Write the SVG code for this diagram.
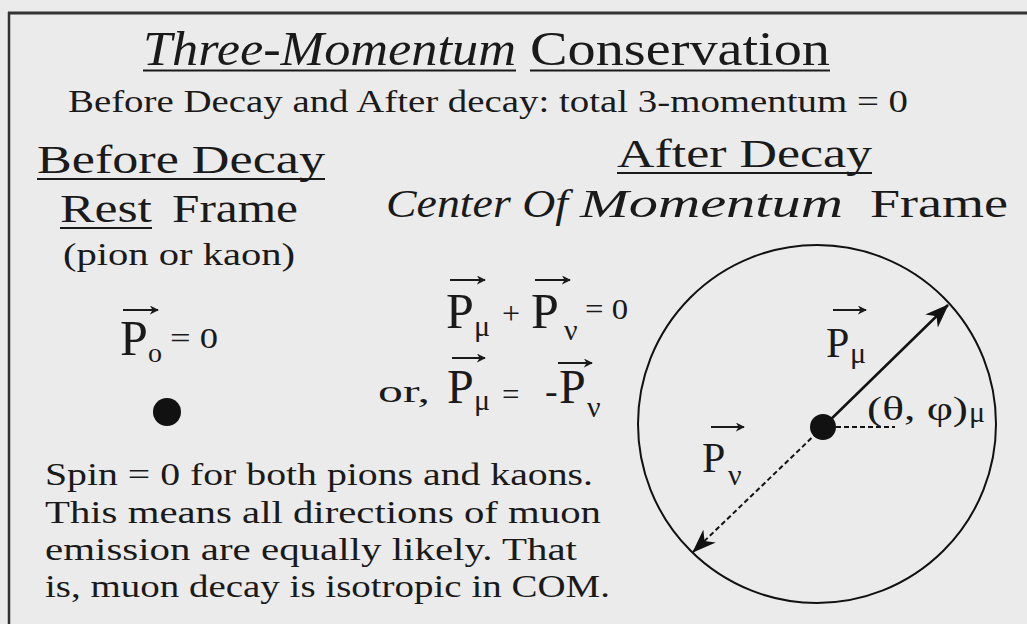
<svg xmlns="http://www.w3.org/2000/svg" width="1027" height="624" viewBox="0 0 1027 624">
<defs>
<style>
.t{font-family:"Liberation Serif","Times New Roman",serif;fill:#1a1a1a}
.i{font-style:italic}
.ul{stroke:#1a1a1a;stroke-width:2}
.va{stroke:#1a1a1a;stroke-width:1.8;fill:none}
</style>
<marker id="vh" viewBox="0 0 10 10" refX="9" refY="5" markerWidth="9" markerHeight="9" markerUnits="userSpaceOnUse" orient="auto">
<path d="M0,0 L10,5 L0,10 L3,5 Z" fill="#1a1a1a"/>
</marker>
<marker id="ah" viewBox="0 0 24 18" refX="23" refY="9" markerWidth="24" markerHeight="18" markerUnits="userSpaceOnUse" orient="auto">
<path d="M0,0 L24,9 L0,18 L7,9 Z" fill="#111"/>
</marker>
</defs>
<rect width="1027" height="624" fill="#ebebeb"/>
<g id="frame">
<line x1="8" y1="13" x2="1027" y2="13" stroke="#333" stroke-width="3"/>
<line x1="9" y1="12" x2="9" y2="624" stroke="#333" stroke-width="2.5"/>
</g>
<g id="title">
<text class="t i" x="143" y="65" font-size="48" textLength="373" lengthAdjust="spacingAndGlyphs">Three-Momentum</text>
<text class="t" x="530" y="65" font-size="48" textLength="300" lengthAdjust="spacingAndGlyphs">Conservation</text>
<line class="ul" x1="143" y1="70.5" x2="516" y2="70.5"/>
<line class="ul" x1="530" y1="70.5" x2="830" y2="70.5"/>
<text class="t" x="68" y="112" font-size="31" textLength="840" lengthAdjust="spacingAndGlyphs">Before Decay and After decay: total 3-momentum = 0</text>
</g>
<g id="before">
<text class="t" x="37" y="173" font-size="41" textLength="288" lengthAdjust="spacingAndGlyphs">Before Decay</text>
<line class="ul" x1="37" y1="179" x2="325" y2="179"/>
<text class="t" x="60" y="222" font-size="41" textLength="92" lengthAdjust="spacingAndGlyphs">Rest</text>
<line class="ul" x1="60" y1="228" x2="152" y2="228"/>
<text class="t" x="172" y="222" font-size="41" textLength="126" lengthAdjust="spacingAndGlyphs">Frame</text>
<text class="t" x="63" y="265" font-size="31" textLength="232" lengthAdjust="spacingAndGlyphs">(pion or kaon)</text>
<line class="va" x1="123" y1="310" x2="158" y2="310" marker-end="url(#vh)"/>
<text class="t" x="120" y="355" font-size="50">P</text>
<text class="t" x="148" y="362" font-size="28">o</text>
<text class="t" x="170" y="348" font-size="30" textLength="48" lengthAdjust="spacingAndGlyphs">= 0</text>
<circle cx="167" cy="412" r="14" fill="#111"/>
</g>
<g id="after">
<text class="t" x="617" y="167" font-size="41" textLength="255" lengthAdjust="spacingAndGlyphs">After Decay</text>
<line class="ul" x1="617" y1="173" x2="872" y2="173"/>
<text class="t i" x="386" y="217" font-size="41" textLength="182" lengthAdjust="spacingAndGlyphs">Center Of</text>
<text class="t i" x="580" y="217" font-size="41" textLength="263" lengthAdjust="spacingAndGlyphs">Momentum</text>
<text class="t" x="870" y="217" font-size="41" textLength="138" lengthAdjust="spacingAndGlyphs">Frame</text>
</g>
<g id="equations">
<line class="va" x1="450" y1="280" x2="485" y2="280" marker-end="url(#vh)"/>
<text class="t" x="446" y="328" font-size="50">P</text>
<text class="t" x="474" y="336" font-size="30">μ</text>
<text class="t" x="502" y="324" font-size="32">+</text>
<line class="va" x1="535" y1="280" x2="570" y2="280" marker-end="url(#vh)"/>
<text class="t" x="531" y="328" font-size="50">P</text>
<text class="t" x="564" y="340" font-size="30">ν</text>
<text class="t" x="585" y="319" font-size="30" textLength="43" lengthAdjust="spacingAndGlyphs">= 0</text>
<text class="t" x="378" y="402" font-size="31" textLength="52" lengthAdjust="spacingAndGlyphs">or,</text>
<line class="va" x1="452" y1="358" x2="485" y2="358" marker-end="url(#vh)"/>
<text class="t" x="447" y="403" font-size="48">P</text>
<text class="t" x="474" y="410" font-size="30">μ</text>
<text class="t" x="502" y="405" font-size="31">=</text>
<text class="t" x="545" y="404" font-size="38">-</text>
<line class="va" x1="558" y1="363" x2="592" y2="363" marker-end="url(#vh)"/>
<text class="t" x="559" y="403" font-size="48">P</text>
<text class="t" x="587" y="417" font-size="30">ν</text>
</g>
<g id="com-diagram">
<circle cx="817" cy="424" r="179" fill="none" stroke="#111" stroke-width="2"/>
<circle cx="823" cy="427" r="13" fill="#111"/>
</g>
<g id="connectors">
<line x1="823" y1="427" x2="948" y2="305" stroke="#111" stroke-width="2.5" marker-end="url(#ah)"/>
<line x1="823" y1="427" x2="693" y2="552" stroke="#111" stroke-width="2" stroke-dasharray="5,3" marker-end="url(#ah)"/>
<line x1="836" y1="427" x2="895" y2="427" stroke="#111" stroke-width="2" stroke-dasharray="5,3"/>
</g>
<g id="labels">
<line class="va" x1="833" y1="310" x2="866" y2="310" marker-end="url(#vh)"/>
<text class="t" x="826" y="357" font-size="42">P</text>
<text class="t" x="850" y="363" font-size="30">μ</text>
<text class="t" x="867" y="420" font-size="34" textLength="101" lengthAdjust="spacingAndGlyphs">(θ, φ)</text>
<text class="t" x="969" y="422" font-size="30">μ</text>
<line class="va" x1="711" y1="427" x2="744" y2="427" marker-end="url(#vh)"/>
<text class="t" x="702" y="472" font-size="42">P</text>
<text class="t" x="728" y="485" font-size="30">ν</text>
</g>
<g id="note">
<text class="t" x="45" y="485" font-size="31" textLength="548" lengthAdjust="spacingAndGlyphs">Spin = 0 for both pions and kaons.</text>
<text class="t" x="45" y="523" font-size="31" textLength="556" lengthAdjust="spacingAndGlyphs">This means all directions of muon</text>
<text class="t" x="45" y="560" font-size="31" textLength="532" lengthAdjust="spacingAndGlyphs">emission are equally likely.  That</text>
<text class="t" x="45" y="597" font-size="31" textLength="565" lengthAdjust="spacingAndGlyphs">is, muon decay is isotropic in COM.</text>
</g>
</svg>
